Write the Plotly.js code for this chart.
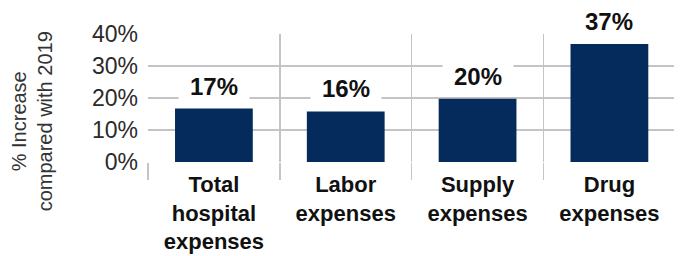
<!DOCTYPE html>
<html>
<head>
<meta charset="utf-8">
<script src="https://cdn.plot.ly/plotly-3.0.1.min.js"></script>
<style>html,body{margin:0;padding:0;background:#fff;}#chart{width:683px;height:256px;}</style>
</head>
<body>
<div id="chart"></div>
<script>
const categories = ["Total<br>hospital<br>expenses", "Labor<br>expenses", "Supply<br>expenses", "Drug<br>expenses"];
const increasePct = [16.7, 15.8, 19.8, 36.9];
const valueLabels = ["17%", "16%", "20%", "37%"];
const yTickVals = [0, 10, 20, 30, 40];
const yTickText = ["0%", "10%", "20%", "30%", "40%"];
const yTitle = "% Increase<br>compared with 2019";

const trace = {
  type: "bar",
  x: categories,
  y: increasePct,
  marker: {color: "#042b5c"},
  hoverinfo: "skip"
};

const annotations = categories.map((c, i) => ({
  x: c, y: increasePct[i], xref: "x", yref: "y",
  text: valueLabels[i], showarrow: false,
  yanchor: "bottom", yshift: 6,
  font: {family: "Liberation Sans, Arial, sans-serif", size: 24, color: "#111", weight: "bold"},
  bgcolor: "#ffffff", borderpad: 2, width: 66
}));

annotations.push({
  xref: "paper", yref: "paper", x: -0.22, y: 0.32,
  xanchor: "center", yanchor: "middle",
  text: yTitle, textangle: -90, showarrow: false,
  font: {family: "Liberation Sans, Arial, sans-serif", size: 20, color: "#333"}
});

const layout = {
  width: 683, height: 256,
  margin: {l: 148, r: 9, t: 34, b: 94, pad: 0},
  paper_bgcolor: "#fff", plot_bgcolor: "#fff",
  showlegend: false,
  bargap: 0.41,
  xaxis: {
    type: "category",
    range: [-0.5, 3.49],
    tickson: "boundaries",
    ticks: "outside", ticklen: 17, tickwidth: 1.5, tickcolor: "#c4c4c4",
    showgrid: true, gridcolor: "#c4c4c4", gridwidth: 1.5,
    showline: false, zeroline: false,
    tickfont: {family: "Liberation Sans, Arial, sans-serif", size: 22, color: "#111", weight: "bold"},
    ticklabelstandoff: 7
  },
  yaxis: {
    range: [0, 40],
    tickvals: yTickVals, ticktext: yTickText,
    showgrid: true, gridcolor: "#c4c4c4", gridwidth: 1.5,
    zeroline: false, showline: false,
    ticks: "", ticklabelstandoff: 9,
    tickfont: {family: "Liberation Sans, Arial, sans-serif", size: 23, color: "#2a2a2a"}
  },
  annotations: annotations
};

Plotly.newPlot("chart", [trace], layout, {displayModeBar: false, staticPlot: true});
</script>
</body>
</html>
